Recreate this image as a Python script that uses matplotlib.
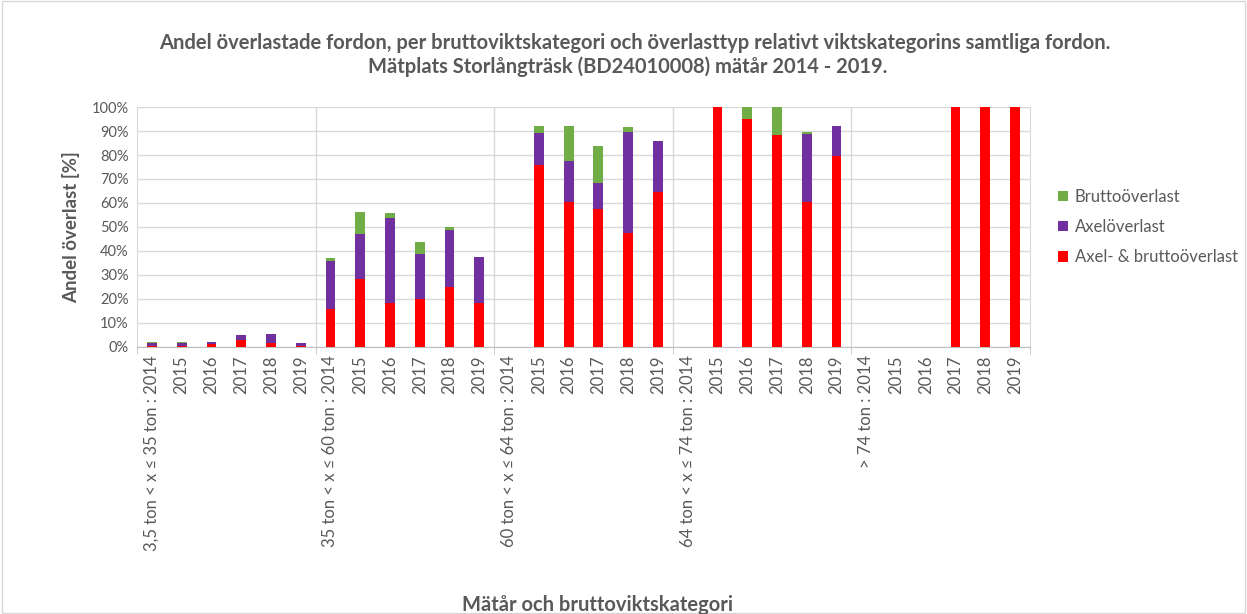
import matplotlib
matplotlib.use("Agg")
import matplotlib.pyplot as plt
from matplotlib.ticker import PercentFormatter, FixedLocator
import numpy as np

plt.rcParams['font.family'] = ['Lato', 'DejaVu Sans']

groups = ["3,5 ton < x ≤ 35 ton", "35 ton < x ≤ 60 ton", "60 ton < x ≤ 64 ton",
          "64 ton < x ≤ 74 ton", "> 74 ton"]
years = ["2014", "2015", "2016", "2017", "2018", "2019"]

# values in percent, per group, per year
axel_brutto = [0.5, 0.5, 1.2, 3.0, 1.5, 0.3,
               16.0, 28.2, 18.2, 20.0, 25.0, 18.2,
               0.0, 76.0, 60.3, 57.4, 47.6, 64.7,
               0.0, 100.0, 95.0, 88.3, 60.6, 79.6,
               0.0, 0.0, 0.0, 100.0, 100.0, 100.0]
axel = [1.0, 1.0, 1.0, 1.8, 3.8, 1.5,
        20.0, 19.0, 35.5, 18.6, 23.8, 19.2,
        0.0, 13.0, 17.3, 11.1, 42.1, 21.0,
        0.0, 0.0, 0.0, 0.0, 28.0, 12.6,
        0.0, 0.0, 0.0, 0.0, 0.0, 0.0]
brutto = [0.5, 0.5, 0.0, 0.2, 0.2, 0.0,
          1.0, 9.0, 2.2, 5.3, 1.4, 0.0,
          0.0, 3.2, 14.4, 15.4, 1.8, 0.0,
          0.0, 0.0, 5.0, 11.7, 1.1, 0.0,
          0.0, 0.0, 0.0, 0.0, 0.0, 0.0]

labels = []
for g in groups:
    for i, y in enumerate(years):
        labels.append(f"{g} : {y}" if i == 0 else y)

c_red = "#FF0000"
c_purple = "#7030A0"
c_green = "#70AD47"
txt = "#595959"
grid = "#D9D9D9"

fig = plt.figure(figsize=(12.47, 6.14), dpi=100)
ax = fig.add_axes([137/1247, 1-347/614, (1030-137)/1247, (347-107)/614])

x = np.arange(len(labels))
ab = np.array(axel_brutto)
ax_ = np.array(axel)
br = np.array(brutto)
w = 0.33
b1 = ax.bar(x, ab, w, color=c_red, label="Axel- & bruttoöverlast", zorder=3)
b2 = ax.bar(x, ax_, w, bottom=ab, color=c_purple, label="Axelöverlast", zorder=3)
b3 = ax.bar(x, br, w, bottom=ab+ax_, color=c_green, label="Bruttoöverlast", zorder=3)

ax.set_xlim(-0.5, len(labels)-0.5)
ax.set_ylim(0, 100)
ax.set_yticks(np.arange(0, 101, 10))
ax.yaxis.set_major_formatter(PercentFormatter(100, decimals=0))
ax.yaxis.grid(True, color=grid, linewidth=1, zorder=0)
ax.set_axisbelow(True)

for b in [5.5, 11.5, 17.5, 23.5]:
    ax.axvline(b, color=grid, linewidth=1, zorder=1)

ax.spines["top"].set_visible(False)
for s in ["left", "right", "bottom"]:
    ax.spines[s].set_color(grid)
ax.spines["bottom"].set_color("#BFBFBF")

ax.set_xticks(x)
ax.set_xticklabels(labels, rotation=90, fontsize=12, color=txt)
ax.tick_params(axis='x', which='major', length=0, pad=6)
ax.xaxis.set_minor_locator(FixedLocator([-0.5, 5.5, 11.5, 17.5, 23.5, 29.5]))
ax.tick_params(axis='x', which='minor', length=5, color="#BFBFBF")
ax.tick_params(axis='y', length=0, labelsize=10.5, labelcolor=txt, pad=6)

ax.set_ylabel("Andel överlast [%]", fontsize=13.5, fontweight='bold', color=txt, labelpad=8)
fig.text(597/1247, 1-605/614, "Mätår och bruttoviktskategori", ha='center', va='center',
         fontsize=14.5, fontweight='bold', color=txt)

fig.text(635/1247, 1-43/614,
         "Andel överlastade fordon, per bruttoviktskategori och överlasttyp relativt viktskategorins samtliga fordon.",
         ha='center', va='center', fontsize=14.5, fontweight='bold', color=txt)
fig.text(628/1247, 1-67/614, "Mätplats Storlångträsk (BD24010008) mätår 2014 - 2019.",
         ha='center', va='center', fontsize=14.5, fontweight='bold', color=txt)

leg = fig.legend(handles=[b3, b2, b1], labels=["Bruttoöverlast", "Axelöverlast", "Axel- & bruttoöverlast"],
                 loc='center left', bbox_to_anchor=(1043/1247, 1-227/614), frameon=False,
                 fontsize=12, handlelength=0.6, handleheight=0.6, handletextpad=0.4,
                 labelspacing=0.85, labelcolor=txt)

fig.patches.append(plt.Rectangle((0.002, 0.002), 0.996, 0.996, transform=fig.transFigure,
                                 fill=False, edgecolor="#D9D9D9", linewidth=1))

fig.savefig("out.png", dpi=100)
